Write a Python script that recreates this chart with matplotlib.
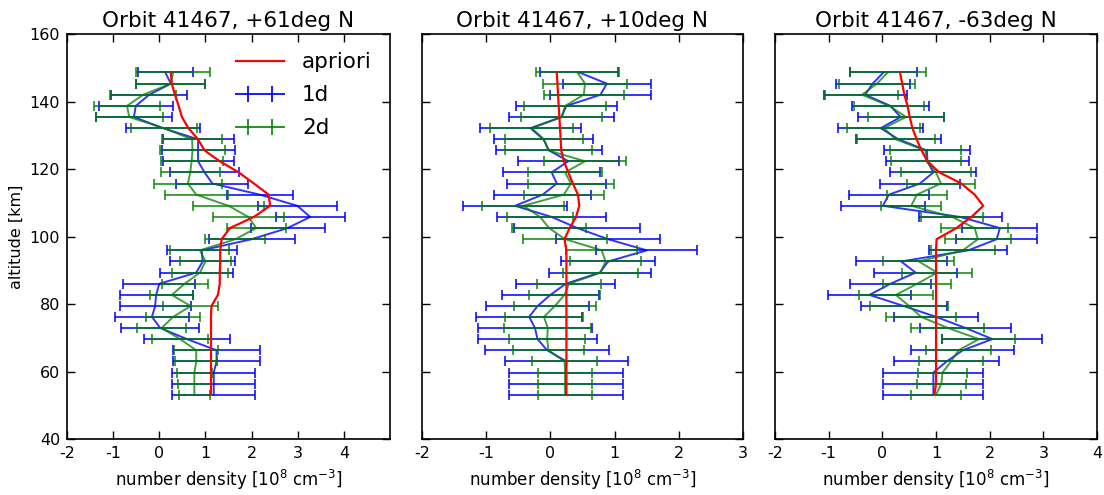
import numpy as np
import matplotlib
matplotlib.use("Agg")
import matplotlib.pyplot as plt
from matplotlib.lines import Line2D
from matplotlib.legend_handler import HandlerLine2D, HandlerTuple

plt.rcParams["axes.unicode_minus"] = False

# altitude grid [km], bottom to top
altitude = [53.1, 56.4, 59.7, 63.0, 66.3, 69.6, 72.9, 76.2, 79.4, 82.7,
            86.0, 89.3, 92.6, 95.9, 99.2, 102.5, 105.8, 109.1, 112.4, 115.7,
            119.0, 122.3, 125.5, 128.8, 132.1, 135.4, 138.7, 142.0, 145.3, 148.6]

titles = ["Orbit 41467, +61deg N", "Orbit 41467, +10deg N", "Orbit 41467, -63deg N"]
xlims = [(-2, 5), (-2, 3), (-2, 4)]
xticks = [[-2, -1, 0, 1, 2, 3, 4], [-2, -1, 0, 1, 2, 3], [-2, -1, 0, 1, 2, 3, 4]]

# values below are listed top (148.6 km) to bottom (53.1 km)
apriori_61 = [0.25, 0.27, 0.34, 0.42, 0.49, 0.63, 0.84, 0.98, 1.31, 1.72,
              2.05, 2.37, 2.40, 2.05, 1.53, 1.35, 1.32, 1.32, 1.31, 1.31,
              1.27, 1.13, 1.12, 1.12, 1.12, 1.12, 1.12, 1.12, 1.12, 1.12]
d1_61 = [0.13, 0.25, -0.22, -0.51, -0.55, 0.08, 0.84, 0.84, 0.84, 0.98,
         1.15, 2.18, 2.99, 3.27, 2.78, 2.00, 0.92, 0.94, 0.80, 0.00,
         -0.07, -0.09, -0.16, 0.02, 0.60, 1.24, 1.24, 1.18, 1.18, 1.18]
d1_61_err = [0.60, 0.75, 0.82, 0.80, 0.82, 0.80, 0.77, 0.79, 0.77, 0.75,
             0.78, 0.72, 0.86, 0.75, 0.80, 0.93, 0.76, 0.70, 0.79, 0.78,
             0.79, 0.77, 0.81, 0.84, 0.93, 0.95, 0.95, 0.90, 0.90, 0.90]
d2_61 = [0.30, 0.25, -0.35, -0.70, -0.65, 0.10, 0.71, 0.72, 0.70, 0.67,
         0.62, 0.80, 1.50, 1.93, 2.10, 1.65, 0.88, 1.00, 0.88, 0.55,
         0.27, 0.68, 0.30, 0.05, 0.45, 0.80, 0.80, 0.76, 0.76, 0.76]
d2_61_err = [0.80, 0.75, 0.72, 0.71, 0.72, 0.72, 0.65, 0.70, 0.67, 0.64,
             0.73, 0.68, 0.77, 0.77, 0.64, 0.65, 0.64, 0.56, 0.60, 0.50,
             0.47, 0.60, 0.58, 0.53, 0.60, 0.48, 0.45, 0.38, 0.35, 0.33]

apriori_10 = [0.10, 0.11, 0.12, 0.13, 0.14, 0.15, 0.16, 0.17, 0.21, 0.28,
              0.35, 0.43, 0.45, 0.40, 0.30, 0.22, 0.25, 0.25, 0.25, 0.25,
              0.25, 0.25, 0.25, 0.25, 0.25, 0.25, 0.25, 0.25, 0.25, 0.25]
d1_10 = [0.45, 0.88, 0.78, 0.25, 0.17, -0.31, -0.11, -0.02, 0.28, 0.02,
         0.10, -0.12, -0.55, 0.02, 0.42, 0.90, 1.50, 0.90, 0.77, 0.24,
         0.00, -0.20, -0.33, -0.24, -0.20, -0.05, 0.25, 0.24, 0.24, 0.24]
d1_10_err = [0.61, 0.68, 0.78, 0.79, 0.82, 0.79, 0.77, 0.82, 0.79, 0.75,
             0.77, 0.76, 0.81, 0.85, 0.98, 0.81, 0.79, 0.73, 0.79, 0.77,
             0.75, 0.80, 0.83, 0.89, 0.93, 0.97, 0.96, 0.89, 0.89, 0.89]
d2_10 = [0.42, 0.54, 0.52, 0.23, 0.18, -0.29, -0.10, -0.03, 0.54, 0.23,
         0.32, 0.21, -0.42, -0.16, -0.02, 0.23, 0.80, 0.86, 0.78, 0.29,
         0.22, 0.07, -0.10, -0.04, -0.05, -0.03, 0.22, 0.23, 0.23, 0.23]
d2_10_err = [0.65, 0.65, 0.62, 0.64, 0.63, 0.65, 0.61, 0.68, 0.64, 0.58,
             0.67, 0.62, 0.64, 0.52, 0.57, 0.65, 0.55, 0.55, 0.58, 0.50,
             0.55, 0.64, 0.61, 0.68, 0.59, 0.55, 0.51, 0.42, 0.42, 0.42]

apriori_m63 = [0.33, 0.37, 0.41, 0.47, 0.51, 0.56, 0.64, 0.73, 0.84, 1.06,
               1.47, 1.72, 1.88, 1.66, 1.38, 1.01, 1.00, 1.00, 1.00, 1.00,
               1.00, 1.00, 1.00, 1.00, 1.00, 1.00, 1.00, 1.00, 1.00, 0.97]
d1_m63 = [0.02, -0.18, -0.32, 0.15, 0.34, -0.03, 0.30, 0.83, 0.84, 0.95,
          0.70, 0.12, 0.01, 1.45, 2.19, 2.13, 1.60, 0.35, 0.62, 0.15,
          -0.24, 0.40, 1.00, 1.55, 2.05, 1.50, 1.20, 0.95, 0.95, 0.95]
d1_m63_err = [0.62, 0.69, 0.77, 0.72, 0.80, 0.79, 0.80, 0.80, 0.78, 0.80,
              0.74, 0.75, 0.78, 0.77, 0.70, 0.75, 0.73, 0.85, 0.78, 0.75,
              0.78, 0.80, 0.79, 0.85, 0.93, 0.96, 0.98, 0.93, 0.93, 0.93]
d2_m63 = [0.10, -0.10, -0.38, 0.13, 0.44, 0.03, 0.25, 0.80, 0.82, 1.00,
          1.09, 0.64, 0.54, 1.30, 1.72, 1.78, 1.50, 0.68, 1.02, 0.65,
          0.25, 0.50, 0.72, 1.22, 1.80, 1.42, 1.28, 1.12, 1.10, 1.00]
d2_m63_err = [0.71, 0.71, 0.68, 0.65, 0.70, 0.68, 0.73, 0.66, 0.65, 0.66,
              0.63, 0.56, 0.56, 0.58, 0.62, 0.61, 0.60, 0.66, 0.65, 0.63,
              0.69, 0.73, 0.65, 0.68, 0.68, 0.60, 0.60, 0.46, 0.46, 0.46]

panels = [
    (apriori_61, d1_61, d1_61_err, d2_61, d2_61_err),
    (apriori_10, d1_10, d1_10_err, d2_10, d2_10_err),
    (apriori_m63, d1_m63, d1_m63_err, d2_m63, d2_m63_err),
]

red, blue, green = "#ff0000", "#0000ff", "#008000"

fig = plt.figure(figsize=(11.04, 4.95), dpi=100)
lefts = [0.0607, 0.3822, 0.702]
widths = [0.2926, 0.2908, 0.2917]

alt_top = altitude[::-1]  # data lists run top to bottom


def legend_entry(color, alpha):
    # full-length line plus two tick marks inside it, like an old errorbar legend
    line = Line2D([], [], color=color, lw=1.4, alpha=alpha)
    ticks = Line2D([], [], color=color, ls="none", marker="|", markersize=11,
                   markeredgewidth=1.4, alpha=alpha)
    return line, ticks


for k, (apr, d1, e1, d2, e2) in enumerate(panels):
    ax = fig.add_axes([lefts[k], 0.1131, widths[k], 0.8182])
    ax.plot(apr, alt_top, color=red, lw=1.6, zorder=5)
    ax.errorbar(d1, alt_top, xerr=e1, color=blue, lw=1.4, elinewidth=1.4,
                capsize=3.5, capthick=1.4, alpha=0.8, zorder=3)
    ax.errorbar(d2, alt_top, xerr=e2, color=green, lw=1.4, elinewidth=1.4,
                capsize=3.5, capthick=1.4, alpha=0.75, zorder=4)
    ax.set_xlim(*xlims[k])
    ax.set_ylim(40, 160)
    ax.set_xticks(xticks[k])
    ax.set_yticks([40, 60, 80, 100, 120, 140, 160])
    ax.tick_params(direction="in", top=True, right=True, length=6, width=1,
                   labelsize=11.5, pad=5)
    if k > 0:
        ax.set_yticklabels([])
    else:
        ax.set_ylabel("altitude [km]", fontsize=11.5, labelpad=4)
        red_line = Line2D([], [], color=red, lw=1.6)
        b_line, b_ticks = legend_entry(blue, 0.9)
        g_line, g_ticks = legend_entry(green, 0.85)
        hmap = {red_line: HandlerLine2D(marker_pad=0),
                b_line: HandlerLine2D(marker_pad=0),
                g_line: HandlerLine2D(marker_pad=0),
                b_ticks: HandlerLine2D(marker_pad=0.55),
                g_ticks: HandlerLine2D(marker_pad=0.55),
                tuple: HandlerTuple(ndivide=1, pad=0)}
        ax.legend([red_line, (b_line, b_ticks), (g_line, g_ticks)],
                  ["apriori", "1d", "2d"], loc="upper right",
                  frameon=False, fontsize=15.5, numpoints=2,
                  handlelength=2.2, handletextpad=0.85, labelspacing=0.6,
                  borderaxespad=0.45, handler_map=hmap)
    ax.set_title(titles[k], fontsize=15.5, pad=5)
    ax.set_xlabel("number density [$10^8$ cm$^{-3}$]", fontsize=12, labelpad=5)
    for s in ax.spines.values():
        s.set_linewidth(1.2)

fig.savefig("out.png", dpi=100)
